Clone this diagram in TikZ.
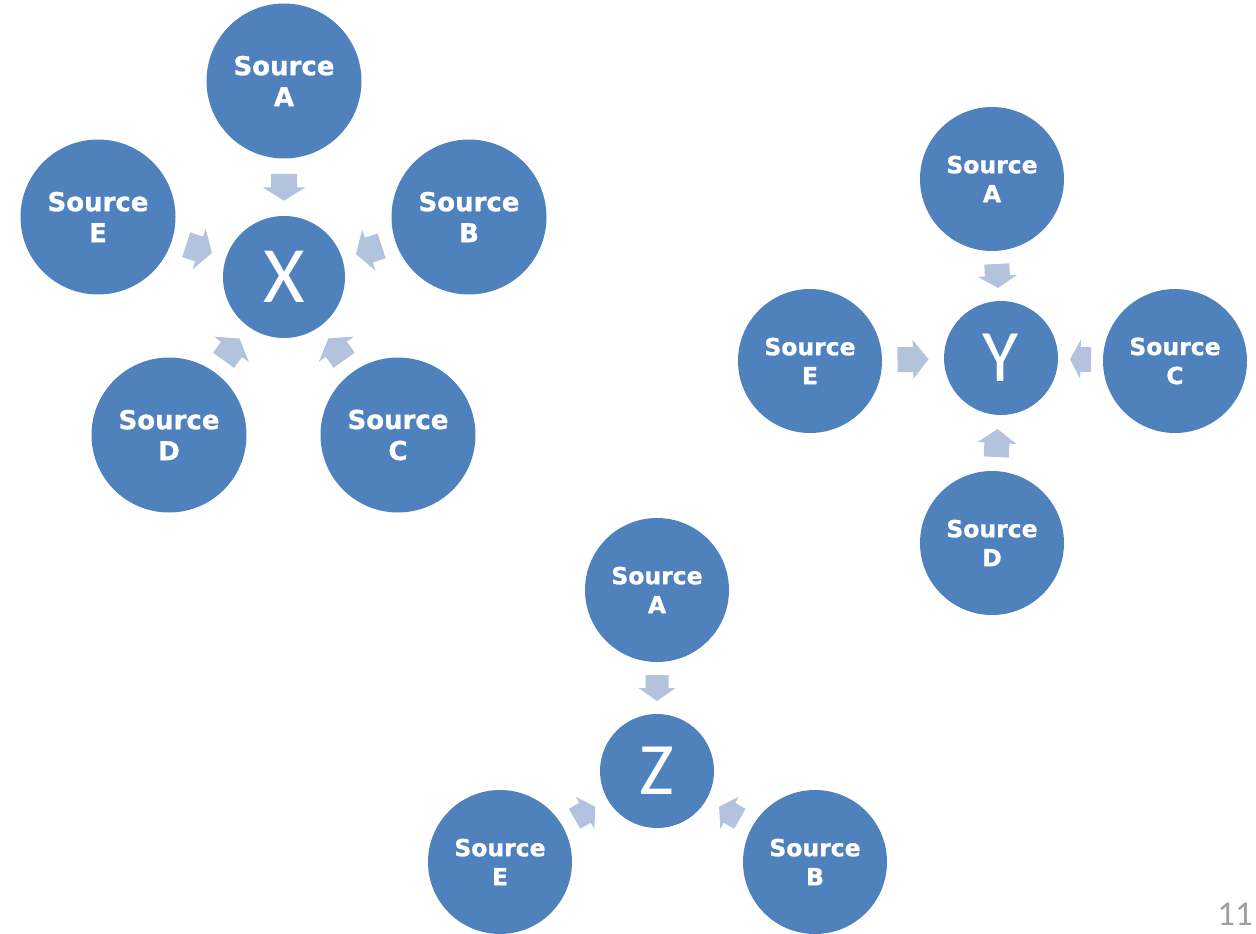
\documentclass[tikz,border=0pt]{standalone}
\usepackage{fontspec}
\setmainfont{DejaVu Sans}
\newfontfamily\srcfont{DejaVu Sans}[BoldFeatures={FakeBold=1}]
\newfontfamily\letterfont{Carlito}
\usetikzlibrary{calc}
\definecolor{circblue}{HTML}{4F81BD}
\definecolor{arrowblue}{HTML}{B3C3DD}
\definecolor{pagegray}{HTML}{A0A0A0}
\tikzset{
 srcbig/.style={circle, fill=circblue, minimum size=155pt, inner sep=0pt, text=white, align=center, font=\srcfont\bfseries\fontsize{26}{31}\selectfont},
 srcsmall/.style={srcbig, minimum size=144pt, font=\srcfont\bfseries\fontsize{23.5}{29}\selectfont},
 hubbig/.style={circle, fill=circblue, minimum size=122pt, inner sep=0pt, text=white, font=\letterfont\fontsize{80}{80}\selectfont},
 hubsmall/.style={hubbig, minimum size=114pt, font=\letterfont\fontsize{74}{74}\selectfont},
 radarrowstyle/.style={fill=arrowblue}
}
% from, to, half length, half shaft width, half head width
\newcommand\radarrow[5]{%
 \fill[radarrowstyle] let \p1=(#1.center), \p2=(#2.center), \n1={atan2(\y2-\y1,\x2-\x1)}, \n2={\n1+180}, \p3=($(#1.\n1)!0.5!(#2.\n2)$) in
 ($(\p3)+(\n1:-#3)+(\n1+90:#4)$) -- ($(\p3)+(\n1+90:#4)$) -- ($(\p3)+(\n1+90:#5)$) -- ($(\p3)+(\n1:#3)$) -- ($(\p3)+(\n1-90:#5)$) -- ($(\p3)+(\n1-90:#4)$) -- ($(\p3)+(\n1:-#3)+(\n1-90:#4)$) -- cycle;}
\begin{document}
\begin{tikzpicture}[x=1pt,y=-1pt]
\useasboundingbox (0,0) rectangle (1256,934);
% cluster X
\node[hubbig] (X) at (284,277) {X};
\node[srcbig] (xA) at (284,81) {Source\\A};
\node[srcbig] (xB) at (469,217) {Source\\B};
\node[srcbig] (xC) at (398,435) {Source\\C};
\node[srcbig] (xD) at (169,435) {Source\\D};
\node[srcbig] (xE) at (98,217) {Source\\E};
\radarrow{xA}{X}{13.5pt}{13pt}{21.5pt}
\radarrow{xB}{X}{13.5pt}{13pt}{21.5pt}
\radarrow{xC}{X}{13.5pt}{13pt}{21.5pt}
\radarrow{xD}{X}{13.5pt}{13pt}{21.5pt}
\radarrow{xE}{X}{13.5pt}{13pt}{21.5pt}
% cluster Y
\node[hubsmall] (Y) at (1001,358) {Y};
\node[srcsmall] (yA) at (992,179) {Source\\A};
\node[srcsmall] (yC) at (1175,361) {Source\\C};
\node[srcsmall] (yD) at (992,543) {Source\\D};
\node[srcsmall] (yE) at (810,361) {Source\\E};
\radarrow{yA}{Y}{12pt}{12.5pt}{19.5pt}
\radarrow{yC}{Y}{10.5pt}{12.5pt}{19.5pt}
\radarrow{yD}{Y}{14pt}{12.5pt}{19.5pt}
\radarrow{yE}{Y}{15.5pt}{12.5pt}{19.5pt}
% cluster Z
\node[hubsmall] (Z) at (657,771) {Z};
\node[srcsmall] (zA) at (657,590) {Source\\A};
\node[srcsmall] (zE) at (500,862) {Source\\E};
\node[srcsmall] (zB) at (815,862) {Source\\B};
\radarrow{zA}{Z}{13pt}{11.5pt}{18.5pt}
\radarrow{zE}{Z}{12pt}{11.5pt}{18.5pt}
\radarrow{zB}{Z}{12pt}{11.5pt}{18.5pt}
% page number
\node[anchor=base east, inner sep=0pt, text=pagegray, font=\letterfont\fontsize{35}{35}\selectfont] (pnum) at (1253,925) {11};
\end{tikzpicture}
\end{document}
